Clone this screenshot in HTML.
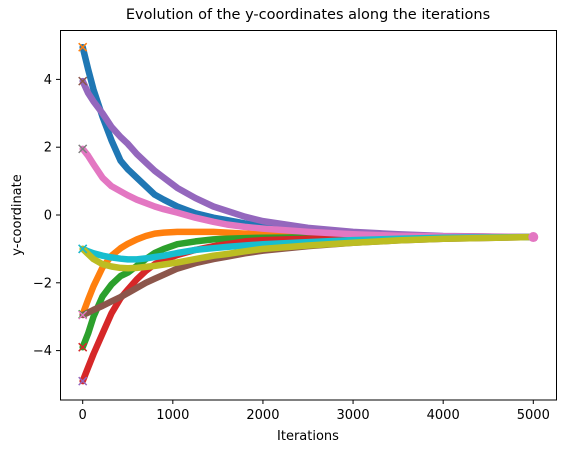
<!DOCTYPE html>
<html><head><meta charset="utf-8"><style>
body{margin:0;background:#fff;font-family:"Liberation Sans","DejaVu Sans",sans-serif}
svg text{font-family:"DejaVu Sans","Liberation Sans",sans-serif}
</style></head><body>
<svg id="chart" width="565" height="453" xmlns="http://www.w3.org/2000/svg">
<rect width="565" height="453" fill="#fff"/>
<text x="308" y="19" font-size="14.5" text-anchor="middle">Evolution of the y-coordinates along the iterations</text>
<g id="plot"></g>
<rect x="60.5" y="30.5" width="496" height="369.5" fill="none" stroke="#000" stroke-width="1"/>
<g id="xt"></g><g id="yt"></g>
<text x="308" y="440" font-size="13" text-anchor="middle">Iterations</text>
<text transform="translate(21,215) rotate(-90)" font-size="13" text-anchor="middle">y-coordinate</text>
</svg>
<script>
const iters=[0,60,120,220,320,420,500,600,700,800,900,1050,1250,1450,1600,1800,2000,2500,3000,3500,4000,5000];
const names=["blue","orange","green","red","purple","brown","pink","gray","olive","cyan"];
const colors=["#1f77b4","#ff7f0e","#2ca02c","#d62728","#9467bd","#8c564b","#e377c2","#7f7f7f","#bcbd22","#17becf"];
const sBlue  =[4.95,4.3,3.7,2.9,2.2,1.6,1.35,1.1,0.85,0.6,0.45,0.25,0.05,-0.08,-0.15,-0.25,-0.33,-0.45,-0.55,-0.6,-0.63,-0.65];
const sOrange=[-2.93,-2.5,-2.1,-1.55,-1.2,-0.98,-0.85,-0.72,-0.62,-0.55,-0.52,-0.5,-0.5,-0.5,-0.52,-0.55,-0.57,-0.58,-0.6,-0.62,-0.63,-0.65];
const sGreen =[-3.9,-3.5,-3.0,-2.4,-2.05,-1.8,-1.7,-1.5,-1.3,-1.12,-1.0,-0.86,-0.78,-0.72,-0.7,-0.68,-0.67,-0.66,-0.66,-0.65,-0.65,-0.65];
const sRed   =[-4.9,-4.5,-4.1,-3.5,-2.9,-2.45,-2.2,-1.9,-1.65,-1.45,-1.32,-1.18,-1.03,-0.92,-0.86,-0.78,-0.74,-0.7,-0.68,-0.66,-0.65,-0.65];
const sPurple=[3.95,3.6,3.35,3.0,2.6,2.3,2.1,1.8,1.55,1.3,1.1,0.8,0.5,0.25,0.12,-0.05,-0.18,-0.38,-0.5,-0.57,-0.62,-0.65];
const sBrown =[-2.95,-2.88,-2.8,-2.68,-2.55,-2.42,-2.3,-2.15,-2.0,-1.88,-1.76,-1.58,-1.42,-1.3,-1.23,-1.13,-1.05,-0.92,-0.82,-0.75,-0.7,-0.65];
const sPink  =[1.95,1.75,1.5,1.1,0.85,0.7,0.58,0.45,0.35,0.25,0.17,0.07,-0.08,-0.2,-0.28,-0.35,-0.4,-0.5,-0.57,-0.61,-0.63,-0.65];
const sOlive =[-1.0,-1.15,-1.3,-1.45,-1.52,-1.56,-1.57,-1.56,-1.53,-1.5,-1.46,-1.4,-1.3,-1.2,-1.15,-1.07,-1.0,-0.9,-0.82,-0.75,-0.7,-0.65];
const sCyan  =[-1.0,-1.07,-1.13,-1.2,-1.25,-1.29,-1.31,-1.31,-1.28,-1.24,-1.2,-1.12,-1.03,-0.98,-0.94,-0.9,-0.86,-0.8,-0.74,-0.7,-0.67,-0.65];
const series=[sBlue,sOrange,sGreen,sRed,sPurple,sBrown,sPink,null,sOlive,sCyan];
const xTicks=[0,1000,2000,3000,4000,5000];
const yTicks=[-4,-2,0,2,4];
const NS="http://www.w3.org/2000/svg";
function X(v){return 82.7+v*0.09012;}
function Y(v){return 215-v*33.9;}
const plot=document.getElementById('plot');
const order=[0,1,2,3,4,5,6,9,8];
order.forEach(i=>{
  const d=series[i];
  const p=document.createElementNS(NS,'polyline');
  
  
  p.setAttribute('points',d.map((v,k)=>X(iters[k]).toFixed(1)+','+Y(v).toFixed(1)).join(' '));
  p.setAttribute('fill','none');p.setAttribute('stroke',colors[i]);
  p.setAttribute('stroke-width','6.5');p.setAttribute('stroke-linejoin','round');p.setAttribute('stroke-linecap','round');
  plot.appendChild(p);
});
order.forEach(i=>{
  const d=series[i];const cx=X(iters[0]),cy=Y(d[0]);
  const m=document.createElementNS(NS,'path');
  
  
  m.setAttribute('d',`M${cx-4},${cy-4}L${cx+4},${cy+4}M${cx-4},${cy+4}L${cx+4},${cy-4}`);
  m.setAttribute('stroke',colors[(i+1)%10]);m.setAttribute('stroke-width','1.5');
  plot.appendChild(m);
});
const e=document.createElementNS(NS,'circle');


e.setAttribute('cx',X(5000));e.setAttribute('cy',Y(sPink[sPink.length-1]));e.setAttribute('r','5');e.setAttribute('fill','#e377c2');
plot.appendChild(e);
const xt=document.getElementById('xt');
xTicks.forEach(t=>{
  const l=document.createElementNS(NS,'line');
  
  
  l.setAttribute('x1',X(t));l.setAttribute('x2',X(t));l.setAttribute('y1',400);l.setAttribute('y2',404);l.setAttribute('stroke','#000');
  xt.appendChild(l);
  const s=document.createElementNS(NS,'text');
  
  
  s.setAttribute('x',X(t));s.setAttribute('y',419);s.setAttribute('font-size','13');s.setAttribute('text-anchor','middle');
  s.textContent=t;xt.appendChild(s);
});
const yt=document.getElementById('yt');
yTicks.forEach(t=>{
  const l=document.createElementNS(NS,'line');
  
  
  l.setAttribute('x1',56);l.setAttribute('x2',60.5);l.setAttribute('y1',Y(t));l.setAttribute('y2',Y(t));l.setAttribute('stroke','#000');
  yt.appendChild(l);
  const s=document.createElementNS(NS,'text');
  
  
  s.setAttribute('x',52);s.setAttribute('y',Y(t)+4.5);s.setAttribute('font-size','13');s.setAttribute('text-anchor','end');
  s.textContent=t<0?'\u2212'+(-t):t;yt.appendChild(s);
});
</script>
</body></html>
